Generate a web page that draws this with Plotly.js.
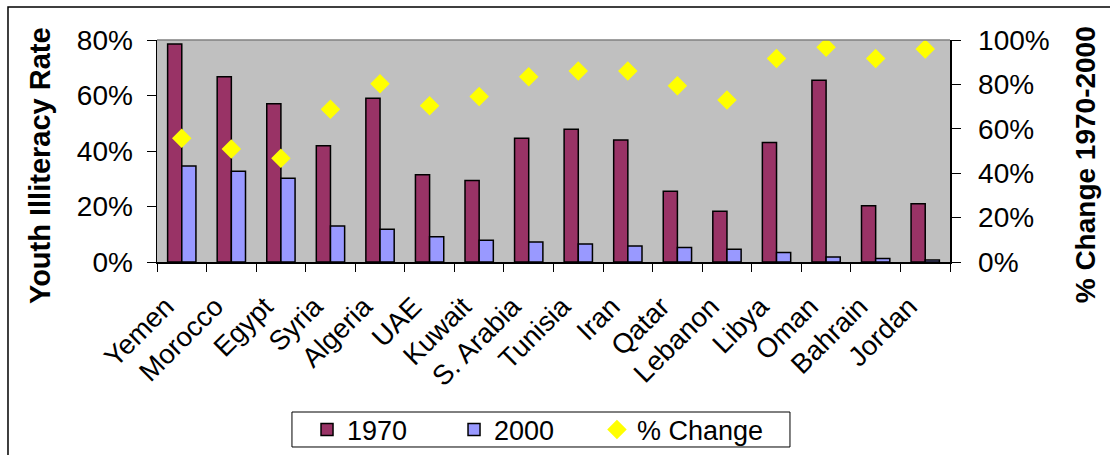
<!DOCTYPE html>
<html>
<head>
<meta charset="utf-8">
<script src="https://cdn.plot.ly/plotly-3.0.1.min.js"></script>
<style>
  html, body { margin: 0; padding: 0; background: #ffffff; }
  #chart { width: 1110px; height: 455px; }
</style>
</head>
<body>
<div id="chart"></div>
<script>
// Youth illiteracy in Arab countries, 1970 vs 2000, with the relative drop
const countries = ['Yemen', 'Morocco', 'Egypt', 'Syria', 'Algeria', 'UAE', 'Kuwait', 'S. Arabia',
                   'Tunisia', 'Iran', 'Qatar', 'Lebanon', 'Libya', 'Oman', 'Bahrain', 'Jordan'];
const rate1970 = [78.6, 66.8, 57.0, 41.9, 59.0, 31.4, 29.4, 44.6, 47.8, 44.0, 25.5, 18.3, 43.1, 65.5, 20.3, 21.0];
const rate2000 = [34.6, 32.7, 30.2, 13.0, 11.8, 9.1, 7.8, 7.2, 6.5, 5.8, 5.2, 4.6, 3.4, 1.8, 1.3, 0.7];
const pctChange = [55.7, 50.9, 46.7, 68.8, 80.3, 70.4, 74.5, 83.5, 86.0, 86.0, 79.4, 73.0, 91.7, 96.7, 91.7, 95.9];

const leftTitle = 'Youth Illiteracy Rate';
const rightTitle = '% Change 1970-2000';

const FONT = 'Liberation Sans, Arial, sans-serif';

const traces = [
  {
    type: 'bar', name: '1970', x: countries, y: rate1970,
    marker: { color: '#993366', line: { color: '#000000', width: 1.5 } },
    hoverinfo: 'x+y', legend: 'legend'
  },
  {
    type: 'bar', name: '2000', x: countries, y: rate2000,
    marker: { color: '#9999FF', line: { color: '#000000', width: 1.5 } },
    hoverinfo: 'x+y', legend: 'legend'
  },
  {
    type: 'scatter', mode: 'markers', name: '% Change', x: countries, y: pctChange,
    yaxis: 'y2', legend: 'legend2',
    marker: { symbol: 'diamond', size: 15, color: '#FFFF00', line: { width: 0 } },
    hoverinfo: 'x+y'
  }
];

const legendBase = {
  orientation: 'h',
  xref: 'container', yref: 'container',
  xanchor: 'left', y: 0.055, yanchor: 'middle',
  bgcolor: 'rgba(0,0,0,0)', borderwidth: 0,
  font: { family: FONT, size: 27 },
  traceorder: 'normal'
};

const layout = {
  width: 1110, height: 455,
  margin: { l: 157, r: 160, t: 40, b: 193, pad: 0 },
  paper_bgcolor: '#ffffff',
  plot_bgcolor: '#C0C0C0',
  font: { family: FONT, color: '#000000', size: 27 },
  barmode: 'group',
  bargap: 0.4286,
  bargroupgap: 0,
  showlegend: true,
  xaxis: {
    type: 'category',
    categoryorder: 'array', categoryarray: countries,
    range: [-0.5, countries.length - 0.5],
    tickson: 'boundaries', ticks: 'outside', ticklen: 8, tickwidth: 1, tickcolor: '#000000',
    tickangle: -45, tickfont: { family: FONT, size: 27.5 },
    ticklabelstandoff: 16, ticklabelshift: -16,
    showline: true, linecolor: '#000000', linewidth: 1.5,
    showgrid: false, zeroline: false, fixedrange: true, automargin: false
  },
  xaxis2: {
    type: 'category', overlaying: 'x', anchor: 'y', side: 'bottom',
    categoryorder: 'array', categoryarray: countries,
    range: [-0.5, countries.length - 0.5],
    tickson: 'boundaries', ticks: 'inside', ticklen: 9, tickwidth: 1, tickcolor: '#000000',
    showticklabels: false, showline: false, showgrid: false, zeroline: false, automargin: false
  },
  yaxis: {
    range: [0, 80], dtick: 20, ticksuffix: '%',
    ticks: 'outside', ticklen: 9, tickwidth: 1, tickcolor: '#000000',
    tickfont: { family: FONT, size: 28 }, ticklabelstandoff: 8,
    showline: true, linecolor: '#000000', linewidth: 1.5,
    showgrid: false, zeroline: false, fixedrange: true, automargin: false
  },
  yaxis2: {
    overlaying: 'y', side: 'right', anchor: 'x',
    range: [0, 100], dtick: 20, ticksuffix: '%',
    ticks: 'outside', ticklen: 9, tickwidth: 1, tickcolor: '#000000',
    tickfont: { family: FONT, size: 28 }, ticklabelstandoff: 12,
    showline: true, linecolor: '#000000', linewidth: 1.5,
    showgrid: false, zeroline: false, fixedrange: true, automargin: false
  },
  legend: Object.assign({}, legendBase, { x: 0.2766, entrywidth: 102, entrywidthmode: 'pixels' }),
  legend2: Object.assign({}, legendBase, { x: 0.5378 }),
  annotations: [
    { text: leftTitle, xref: 'paper', yref: 'paper', x: -0.1475, y: 0.4324,
      xanchor: 'center', yanchor: 'middle', textangle: -90, showarrow: false,
      font: { family: FONT, size: 29, weight: 'bold' } },
    { text: rightTitle, xref: 'paper', yref: 'paper', x: 1.1702, y: 0.44,
      xanchor: 'center', yanchor: 'middle', textangle: -90, showarrow: false,
      font: { family: FONT, size: 28, weight: 'bold' } }
  ],
  shapes: [
    // grey top edge of the plotting area
    { type: 'line', xref: 'paper', yref: 'paper', x0: 0, x1: 1, y0: 1, y1: 1,
      line: { color: '#808080', width: 1.5 }, layer: 'above' },
    // outer chart frame (left and top edges)
    { type: 'rect', xref: 'paper', yref: 'paper', x0: -0.1879, x1: 1.5, y0: -1.5, y1: 1.1486,
      line: { color: '#000000', width: 1.5 }, fillcolor: 'rgba(0,0,0,0)', layer: 'below' },
    // legend box
    { type: 'rect', xref: 'paper', yref: 'paper', x0: 0.1702, x1: 0.7982, y0: -0.8333, y1: -0.6757,
      line: { color: '#000000', width: 1 }, fillcolor: '#ffffff', layer: 'below' }
  ]
};

Plotly.newPlot('chart', traces, layout, { displayModeBar: false, staticPlot: true });
</script>
</body>
</html>
